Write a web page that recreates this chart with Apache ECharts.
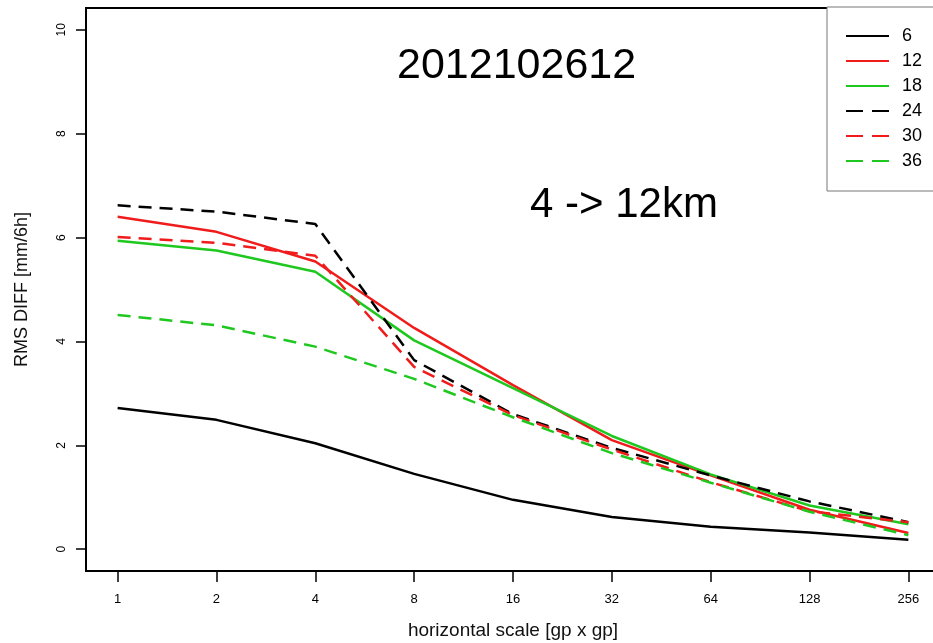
<!DOCTYPE html>
<html>
<head>
<meta charset="utf-8">
<script src="https://cdn.jsdelivr.net/npm/echarts@6/dist/echarts.min.js"></script>
<style>
html,body{margin:0;padding:0;background:#fff;}
#c{width:933px;height:643px;}
</style>
</head>
<body>
<div id="c"></div>
<script>
var categories = ['1','2','4','8','16','32','64','128','256'];
var yTicks = [0, 2, 4, 6, 8, 10];
var s6  = [2.72, 2.49, 2.04, 1.45, 0.95, 0.62, 0.43, 0.32, 0.18];
var s12 = [6.40, 6.11, 5.54, 4.26, 3.16, 2.10, 1.42, 0.76, 0.31];
var s18 = [5.94, 5.75, 5.34, 4.02, 3.10, 2.18, 1.44, 0.84, 0.48];
var s24 = [6.62, 6.50, 6.26, 3.64, 2.60, 1.95, 1.42, 0.92, 0.52];
var s30 = [6.01, 5.90, 5.65, 3.51, 2.58, 1.92, 1.29, 0.73, 0.52];
var s36 = [4.51, 4.31, 3.90, 3.28, 2.54, 1.85, 1.28, 0.72, 0.27];
var seriesNames = ['6','12','18','24','30','36'];
var titleText = '2012102612';
var noteText = '4 -> 12km';

var RED = '#f01c1c', GREEN = '#1ec81e', BLACK = '#000000';
var FONT = "'Liberation Sans', Arial, sans-serif";
var DASH = [13, 8];

function pts(vals){ return vals.map(function(v,i){ return [i, v]; }); }
function mk(name, vals, color, dashed){
  return {
    name: name, type: 'line', data: pts(vals), showSymbol: false, symbol: 'none',
    smooth: false, animation: false,
    lineStyle: { color: color, width: 2.5, type: dashed ? DASH : 'solid' },
    itemStyle: { color: color }
  };
}
var idx = categories.map(function(c,i){ return i; });
var legendData = seriesNames.map(function(n, i){
  var d = { name: n };
  if (i >= 3) d.lineStyle = { type: [17, 9] };
  return d;
});

var chart = echarts.init(document.getElementById('c'));
chart.setOption({
  backgroundColor: '#ffffff',
  animation: false,
  grid: { left: 86, top: 8, right: -7, bottom: 72, show: true, borderColor: '#000', borderWidth: 2,
          backgroundColor: 'transparent', outerBoundsMode: 'none', containLabel: false },
  xAxis: {
    type: 'value', min: -0.32, max: 8.32,
    name: 'horizontal scale [gp x gp]', nameLocation: 'middle', nameGap: 50,
    nameTextStyle: { fontFamily: FONT, fontSize: 19, color: '#111' },
    axisLine: { show: false, onZero: false },
    splitLine: { show: false },
    axisTick: { show: true, length: 11, customValues: idx, lineStyle: { color: '#000', width: 1.5 } },
    axisLabel: { customValues: idx, margin: 22, fontFamily: FONT, fontSize: 13, color: '#000',
      formatter: function(v){ return categories[Math.round(v)]; } }
  },
  yAxis: {
    type: 'value', min: -0.42, max: 10.42,
    name: 'RMS DIFF [mm/6h]', nameLocation: 'middle', nameGap: 55, nameRotate: 90,
    nameTextStyle: { fontFamily: FONT, fontSize: 18, color: '#111' },
    axisLine: { show: false, onZero: false },
    splitLine: { show: false },
    axisTick: { show: true, length: 10, customValues: yTicks, lineStyle: { color: '#000', width: 1.5 } },
    axisLabel: { customValues: yTicks, rotate: 90, margin: 18, fontFamily: FONT, fontSize: 12, color: '#000' }
  },
  legend: {
    orient: 'vertical', left: 827, top: 7,
    data: legendData,
    itemWidth: 43, itemHeight: 14, itemGap: 7,
    padding: [20, 40, 21, 18],
    borderColor: '#777', borderWidth: 1, backgroundColor: '#fff',
    itemStyle: { opacity: 0 },
    textStyle: { fontFamily: FONT, fontSize: 18, color: '#000', padding: [0,0,0,8], lineHeight: 18 }
  },
  graphic: [
    { type: 'text', left: 397, top: 45, style: { text: titleText, font: '43px ' + FONT, fill: '#000' } },
    { type: 'text', left: 530, top: 184, style: { text: noteText, font: '42px ' + FONT, fill: '#000' } }
  ],
  series: [
    mk(seriesNames[0], s6, BLACK, false),
    mk(seriesNames[1], s12, RED, false),
    mk(seriesNames[2], s18, GREEN, false),
    mk(seriesNames[3], s24, BLACK, true),
    mk(seriesNames[4], s30, RED, true),
    mk(seriesNames[5], s36, GREEN, true)
  ]
});
</script>
</body>
</html>
